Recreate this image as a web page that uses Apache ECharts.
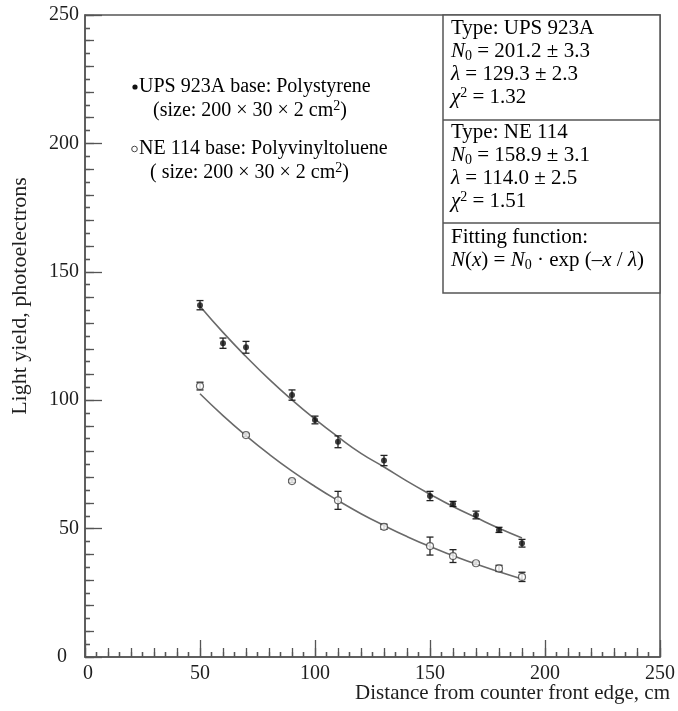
<!DOCTYPE html>
<html>
<head>
<meta charset="utf-8">
<script src="https://cdn.jsdelivr.net/npm/echarts@6/dist/echarts.min.js"></script>
<style>
html, body { margin: 0; padding: 0; background: #fff; }
#chart { width: 678px; height: 711px; }
</style>
</head>
<body>
<div id="chart"></div>
<script>
// measured points, UPS 923A (filled) and NE 114 (open)
const upsDistance = [50, 60, 70, 90, 100, 110, 130, 150, 160, 170, 180, 190]
const upsYield = [137.0, 122.2, 120.6, 102.0, 92.3, 83.8, 76.5, 62.7, 59.6, 55.3, 49.5, 44.3]
const upsErr = [1.8, 2.0, 2.3, 2.0, 1.5, 2.3, 2.0, 1.8, 1.0, 1.5, 1.0, 1.5]

const neDistance = [50, 70, 90, 110, 130, 150, 160, 170, 180, 190]
const neYield = [105.5, 86.4, 68.5, 61.0, 50.7, 43.2, 39.3, 36.5, 34.5, 31.2]
const neErr = [1.5, 0.5, 0.5, 3.5, 1.0, 3.5, 2.5, 0.5, 1.2, 1.8]

// fit curves
const fitDistance = [50, 60, 70, 80, 90, 100, 110, 120, 130, 140, 150, 160, 170, 180, 190]
const upsFit = [136.6, 126.4, 117.0, 108.2, 100.1, 92.6, 85.7, 79.3, 74.0, 68.5, 63.4, 58.6, 54.3, 50.1, 46.3]
const neFit = [102.5, 94.0, 86.2, 79.0, 72.4, 66.4, 60.9, 55.8, 51.2, 46.9, 43.0, 39.5, 36.2, 33.2, 30.4]

const xTicks = [0, 50, 100, 150, 200, 250]
const yTicks = [0, 50, 100, 150, 200, 250]

const FONT = "'Liberation Serif', 'Times New Roman', serif"
const INK = '#1e1e1e'
const LINE = '#555'

const zip = (xs, ys) => xs.map((x, i) => [x, ys[i]])
const zip3 = (xs, ys, es) => xs.map((x, i) => [x, ys[i], es[i]])

function richStyles (size) {
  return {
    n: { fontFamily: FONT, fontSize: size, color: INK, lineHeight: 23 },
    i: { fontFamily: FONT, fontSize: size, color: INK, lineHeight: 23, fontStyle: 'italic' },
    sub: { fontFamily: FONT, fontSize: 14, color: INK, lineHeight: 12, verticalAlign: 'bottom' },
    sup: { fontFamily: FONT, fontSize: 14, color: INK, lineHeight: 12, verticalAlign: 'top' }
  }
}
const legendRich = richStyles(20)
const boxRich = richStyles(21)

function errorBars (data) {
  return {
    type: 'custom',
    xAxisIndex: 0,
    yAxisIndex: 0,
    z: 3,
    silent: true,
    data: data,
    renderItem (params, api) {
      const x = api.value(0)
      const y = api.value(1)
      const e = api.value(2)
      const hi = api.coord([x, y + e])
      const lo = api.coord([x, y - e])
      const w = 3.5
      const style = { stroke: '#222', lineWidth: 1.3 }
      return {
        type: 'group',
        children: [
          { type: 'line', shape: { x1: hi[0], y1: hi[1], x2: lo[0], y2: lo[1] }, style },
          { type: 'line', shape: { x1: hi[0] - w, y1: hi[1], x2: hi[0] + w, y2: hi[1] }, style },
          { type: 'line', shape: { x1: lo[0] - w, y1: lo[1], x2: lo[0] + w, y2: lo[1] }, style }
        ]
      }
    }
  }
}

function valueAxis (ticks, position, major) {
  const isX = position === 'bottom'
  return {
    type: 'value',
    position: position,
    min: ticks[0],
    max: ticks[ticks.length - 1],
    interval: major ? 50 : 10,
    splitLine: { show: false },
    axisLine: { show: major, onZero: false, lineStyle: { color: LINE, width: 1.5 } },
    axisTick: { show: true, inside: true, length: major ? 17 : 9, lineStyle: { color: LINE, width: 1.3 } },
    minorTick: { show: true, splitNumber: major ? 10 : 2, length: 5, lineStyle: { color: LINE, width: 1.3 } },
    axisLabel: {
      show: major,
      margin: isX ? 7 : 6,
      color: INK,
      fontSize: 20,
      fontFamily: FONT,
      // the zero labels sit a little off the other ones in the original
      formatter: v => (v === 0 ? (isX ? '{zx|0}' : '{zy|0}') : String(v)),
      rich: {
        zx: { fontFamily: FONT, fontSize: 20, color: INK, padding: [0, 0, 0, 6] },
        zy: { fontFamily: FONT, fontSize: 20, color: INK, padding: [0, 12, 0, 0] }
      }
    }
  }
}

const option = {
  backgroundColor: '#fff',
  animation: false,
  grid: {
    left: 85,
    right: 18,
    top: 15,
    bottom: 54,
    show: true,
    borderColor: LINE,
    borderWidth: 1.5,
    outerBoundsMode: 'none'
  },
  xAxis: [valueAxis(xTicks, 'bottom', true), valueAxis(xTicks, 'bottom', false)],
  yAxis: [valueAxis(yTicks, 'left', true), valueAxis(yTicks, 'left', false)],
  graphic: [
    {
      type: 'text',
      x: 20,
      y: 296,
      rotation: Math.PI / 2,
      style: { text: 'Light yield, photoelectrons', fontFamily: FONT, fontSize: 22, fill: INK, align: 'center', verticalAlign: 'middle' }
    },
    {
      type: 'text',
      x: 670,
      y: 693,
      style: { text: 'Distance from counter front edge, cm', fontFamily: FONT, fontSize: 21, fill: INK, align: 'right', verticalAlign: 'middle' }
    },
    // legend
    { type: 'circle', shape: { cx: 135, cy: 87, r: 2.6 }, style: { fill: '#111' } },
    { type: 'circle', shape: { cx: 134.5, cy: 149, r: 2.8 }, style: { fill: '#fff', stroke: '#444', lineWidth: 1 } },
    {
      type: 'text',
      x: 139,
      y: 87,
      style: { text: '{n|UPS 923A base: Polystyrene}', rich: legendRich, verticalAlign: 'middle' }
    },
    {
      type: 'text',
      x: 153,
      y: 111,
      style: { text: '{n|(size: 200 × 30 × 2 cm}{sup|2}{n|)}', rich: legendRich, verticalAlign: 'middle' }
    },
    {
      type: 'text',
      x: 139,
      y: 149,
      style: { text: '{n|NE 114 base: Polyvinyltoluene}', rich: legendRich, verticalAlign: 'middle' }
    },
    {
      type: 'text',
      x: 150,
      y: 173,
      style: { text: '{n|( size: 200 × 30 × 2 cm}{sup|2}{n|)}', rich: legendRich, verticalAlign: 'middle' }
    },
    // parameter boxes
    { type: 'rect', shape: { x: 443, y: 15, width: 217, height: 278 }, style: { fill: '#fff', stroke: LINE, lineWidth: 1.5 }, z: 10 },
    { type: 'line', shape: { x1: 443, y1: 120, x2: 660, y2: 120 }, style: { stroke: LINE, lineWidth: 1.5 }, z: 11 },
    { type: 'line', shape: { x1: 443, y1: 223, x2: 660, y2: 223 }, style: { stroke: LINE, lineWidth: 1.5 }, z: 11 },
    {
      type: 'text',
      x: 451,
      y: 17,
      z: 11,
      style: {
        text: '{n|Type: UPS 923A}\n{i|N}{sub|0}{n| = 201.2 ± 3.3}\n{i|λ}{n| = 129.3 ± 2.3}\n{i|χ}{sup|2}{n| = 1.32}',
        rich: boxRich
      }
    },
    {
      type: 'text',
      x: 451,
      y: 121,
      z: 11,
      style: {
        text: '{n|Type: NE 114}\n{i|N}{sub|0}{n| = 158.9 ± 3.1}\n{i|λ}{n| = 114.0 ± 2.5}\n{i|χ}{sup|2}{n| = 1.51}',
        rich: boxRich
      }
    },
    {
      type: 'text',
      x: 451,
      y: 226,
      z: 11,
      style: {
        text: '{n|Fitting function:}\n{i|N}{n|(}{i|x}{n|) = }{i|N}{sub|0}{n| · exp (–}{i|x}{n| / }{i|λ}{n|)}',
        rich: boxRich
      }
    }
  ],
  series: [
    {
      name: 'UPS fit',
      type: 'line',
      smooth: true,
      showSymbol: false,
      silent: true,
      z: 1,
      lineStyle: { color: '#6a6a6a', width: 1.6 },
      data: zip(fitDistance, upsFit)
    },
    {
      name: 'NE fit',
      type: 'line',
      smooth: true,
      showSymbol: false,
      silent: true,
      z: 1,
      lineStyle: { color: '#6a6a6a', width: 1.6 },
      data: zip(fitDistance, neFit)
    },
    errorBars(zip3(upsDistance, upsYield, upsErr)),
    errorBars(zip3(neDistance, neYield, neErr)),
    {
      name: 'UPS 923A',
      type: 'scatter',
      symbol: 'circle',
      symbolSize: 6,
      z: 4,
      itemStyle: { color: '#111' },
      data: zip(upsDistance, upsYield)
    },
    {
      name: 'NE 114',
      type: 'scatter',
      symbol: 'circle',
      symbolSize: 7,
      z: 4,
      itemStyle: { color: '#fff', borderColor: '#444', borderWidth: 1.2 },
      data: zip(neDistance, neYield)
    }
  ]
}

const chart = echarts.init(document.getElementById('chart'))
chart.setOption(option)
</script>
</body>
</html>
